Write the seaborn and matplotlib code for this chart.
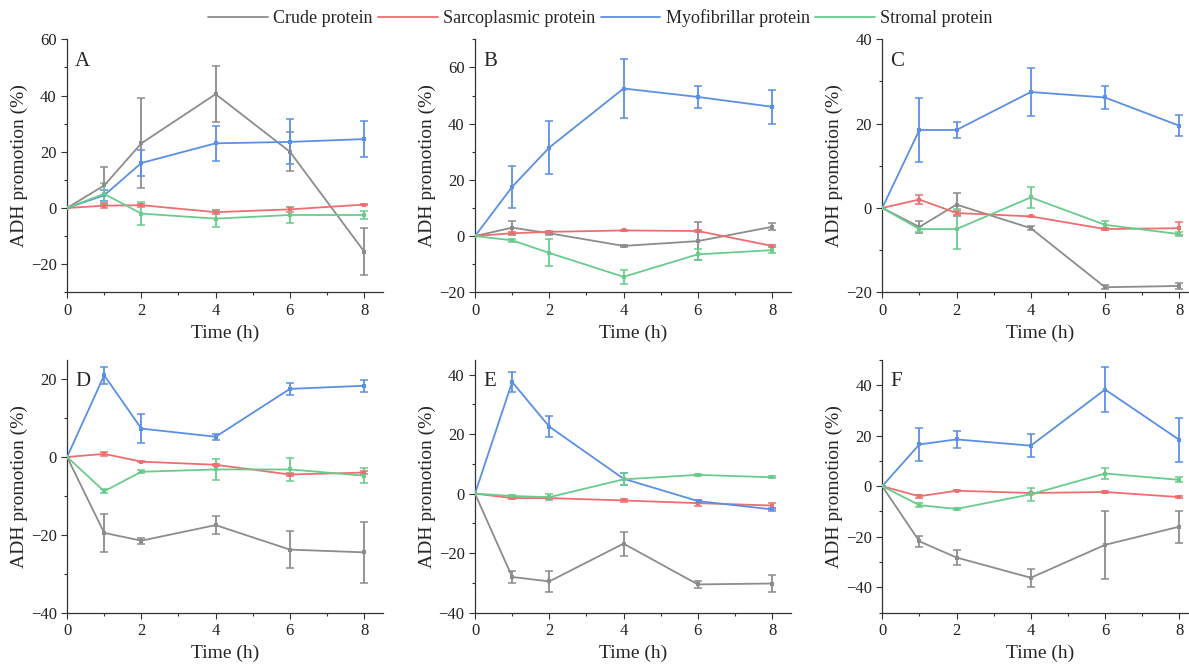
import numpy as np
import pandas as pd
import seaborn as sns
import matplotlib.pyplot as plt
from matplotlib.ticker import MultipleLocator

# ---------------------------------------------------------------
# data (mean, error) per panel
# ---------------------------------------------------------------
TIME = [0, 1, 2, 4, 6, 8]
SERIES = ["Crude protein", "Sarcoplasmic protein", "Myofibrillar protein", "Stromal protein"]
COLORS = ["#8c8c8c", "#ee6e70", "#5b8fe3", "#6acb8c"]
PANELS = ["A", "B", "C", "D", "E", "F"]

A_crude = [0, 8, 23, 40.5, 20, -15.5]
A_crude_err = [0, 6.5, 16, 10, 7, 8.5]
A_sarco = [0, 0.8, 1, -1.5, -0.5, 1.2]
A_sarco_err = [0, 0.8, 0.5, 0.8, 0.8, 0.3]
A_myo = [0, 4.5, 16, 23, 23.5, 24.5]
A_myo_err = [0, 2, 4.5, 6.2, 8, 6.5]
A_strom = [0, 5, -2, -3.8, -2.5, -2.5]
A_strom_err = [0, 4, 4, 3, 3, 1.5]

B_crude = [0, 3, 1, -3.5, -1.8, 3.3]
B_crude_err = [0, 2.5, 0.5, 0.3, 6.8, 1.3]
B_sarco = [0, 1, 1.5, 2, 1.8, -3.5]
B_sarco_err = [0, 0.3, 0.3, 0.2, 0.5, 0.5]
B_myo = [0, 17.5, 31.5, 52.5, 49.5, 46]
B_myo_err = [0, 7.5, 9.3, 10.5, 4, 6]
B_strom = [0, -1.5, -6, -14.5, -6.5, -5]
B_strom_err = [0, 0.5, 4.8, 2.5, 2, 1]

C_crude = [0, -4.5, 0.8, -4.8, -18.8, -18.5]
C_crude_err = [0, 1.5, 2.8, 0.5, 0.5, 0.8]
C_sarco = [0, 2, -1.2, -2, -5, -4.8]
C_sarco_err = [0, 1, 0.5, 0.2, 0.3, 1.5]
C_myo = [0, 18.5, 18.5, 27.5, 26.2, 19.5]
C_myo_err = [0, 7.5, 2, 5.8, 2.8, 2.5]
C_strom = [0, -5, -5, 2.5, -4, -6.2]
C_strom_err = [0, 0.8, 4.8, 2.5, 0.8, 0.5]

D_crude = [0, -19.5, -21.5, -17.5, -23.8, -24.5]
D_crude_err = [0, 4.8, 0.8, 2.3, 4.8, 7.8]
D_sarco = [0, 0.8, -1.2, -2, -4.5, -4]
D_sarco_err = [0, 0.6, 0.2, 0.2, 0.3, 0.3]
D_myo = [0, 21, 7.3, 5.2, 17.5, 18.3]
D_myo_err = [0, 2.2, 3.8, 0.8, 1.5, 1.5]
D_strom = [0, -8.8, -3.8, -3.2, -3.2, -4.8]
D_strom_err = [0, 0.5, 0.4, 2.8, 3, 2]

E_crude = [0, -28, -29.5, -16.8, -30.5, -30.2]
E_crude_err = [0, 2, 3.5, 4, 1.2, 3]
E_sarco = [0, -1.5, -1.5, -2.3, -3.2, -4]
E_sarco_err = [0, 0.3, 0.3, 0.5, 1, 1]
E_myo = [0, 37.5, 22.5, 5, -2.5, -5.3]
E_myo_err = [0, 3.5, 3.5, 2, 0.5, 0.4]
E_strom = [0, -0.8, -1.2, 4.8, 6.3, 5.5]
E_strom_err = [0, 0.3, 1, 2, 0.3, 0.3]

F_crude = [0, -21.8, -28.2, -36.2, -23.2, -16]
F_crude_err = [0, 2.3, 2.8, 3.5, 13.5, 6.3]
F_sarco = [0, -4, -1.8, -2.7, -2.3, -4.3]
F_sarco_err = [0, 0.5, 0.3, 0.2, 0.2, 0.3]
F_myo = [0, 16.5, 18.5, 16, 38.2, 18.3]
F_myo_err = [0, 6.5, 3.5, 4.5, 8.8, 8.7]
F_strom = [0, -7.5, -9, -3.2, 5, 2.5]
F_strom_err = [0, 0.7, 0.3, 2.5, 2.2, 1]

YLIMS = [(-30, 60), (-20, 70), (-20, 40), (-40, 25), (-40, 45), (-50, 50)]

MEANS = {
    "A": [A_crude, A_sarco, A_myo, A_strom],
    "B": [B_crude, B_sarco, B_myo, B_strom],
    "C": [C_crude, C_sarco, C_myo, C_strom],
    "D": [D_crude, D_sarco, D_myo, D_strom],
    "E": [E_crude, E_sarco, E_myo, E_strom],
    "F": [F_crude, F_sarco, F_myo, F_strom],
}
ERRS = {
    "A": [A_crude_err, A_sarco_err, A_myo_err, A_strom_err],
    "B": [B_crude_err, B_sarco_err, B_myo_err, B_strom_err],
    "C": [C_crude_err, C_sarco_err, C_myo_err, C_strom_err],
    "D": [D_crude_err, D_sarco_err, D_myo_err, D_strom_err],
    "E": [E_crude_err, E_sarco_err, E_myo_err, E_strom_err],
    "F": [F_crude_err, F_sarco_err, F_myo_err, F_strom_err],
}

# long form table
rows = []
for p in PANELS:
    for s, m, e in zip(SERIES, MEANS[p], ERRS[p]):
        for t, v, ev in zip(TIME, m, e):
            rows.append({"panel": p, "series": s, "time": t, "value": v, "err": ev})
df = pd.DataFrame(rows)

# ---------------------------------------------------------------
# plotting
# ---------------------------------------------------------------
sns.set_style("ticks")
plt.rcParams["font.family"] = ["Liberation Serif", "DejaVu Serif"]
plt.rcParams["xtick.labelsize"] = 12
plt.rcParams["ytick.labelsize"] = 12

fig = plt.figure(figsize=(11.89, 6.64), dpi=100)
lefts = [0.0564, 0.3995, 0.742]
bottoms = [0.5598, 0.0773]
W, H = 0.2655, 0.381

palette = dict(zip(SERIES, COLORS))

for i, p in enumerate(PANELS):
    ax = fig.add_axes([lefts[i % 3], bottoms[i // 3], W, H])
    sub = df[df.panel == p]
    sns.lineplot(data=sub, x="time", y="value", hue="series", hue_order=SERIES,
                 palette=palette, linewidth=1.3, ax=ax, legend=False,
                 marker="s", markersize=2.3, markeredgewidth=0, zorder=3)
    for s in SERIES:
        ss = sub[sub.series == s]
        ax.errorbar(ss.time, ss.value, yerr=ss.err, fmt="none",
                    ecolor=palette[s], elinewidth=1.3, capsize=3, capthick=1.1, zorder=2)
    ax.set_xlim(0, 8.5)
    ax.set_ylim(*YLIMS[i])
    ax.xaxis.set_major_locator(MultipleLocator(2))
    ax.xaxis.set_minor_locator(MultipleLocator(1))
    ax.yaxis.set_major_locator(MultipleLocator(20))
    ax.yaxis.set_minor_locator(MultipleLocator(10))
    ax.tick_params(which="major", length=4, width=0.8, color="#333333", labelcolor="#222222")
    ax.tick_params(which="minor", length=2, width=0.8, color="#333333")
    for sp in ["left", "bottom"]:
        ax.spines[sp].set_color("#333333")
        ax.spines[sp].set_linewidth(0.9)
    sns.despine(ax=ax)
    ax.set_xlabel("Time (h)", fontsize=14, labelpad=4)
    ax.set_ylabel("ADH promotion (%)", fontsize=14, labelpad=2)
    ax.text(0.025, 0.95, p, transform=ax.transAxes, fontsize=15, va="top", ha="left")

handles = [plt.Line2D([], [], color=c, linewidth=1.3) for c in COLORS]
fig.legend(handles, SERIES, loc="upper center", bbox_to_anchor=(0.505, 1.01), ncol=4,
           frameon=False, fontsize=13, handlelength=3.3, columnspacing=0.3,
           handletextpad=0.3)

fig.savefig("out.png", dpi=100)
